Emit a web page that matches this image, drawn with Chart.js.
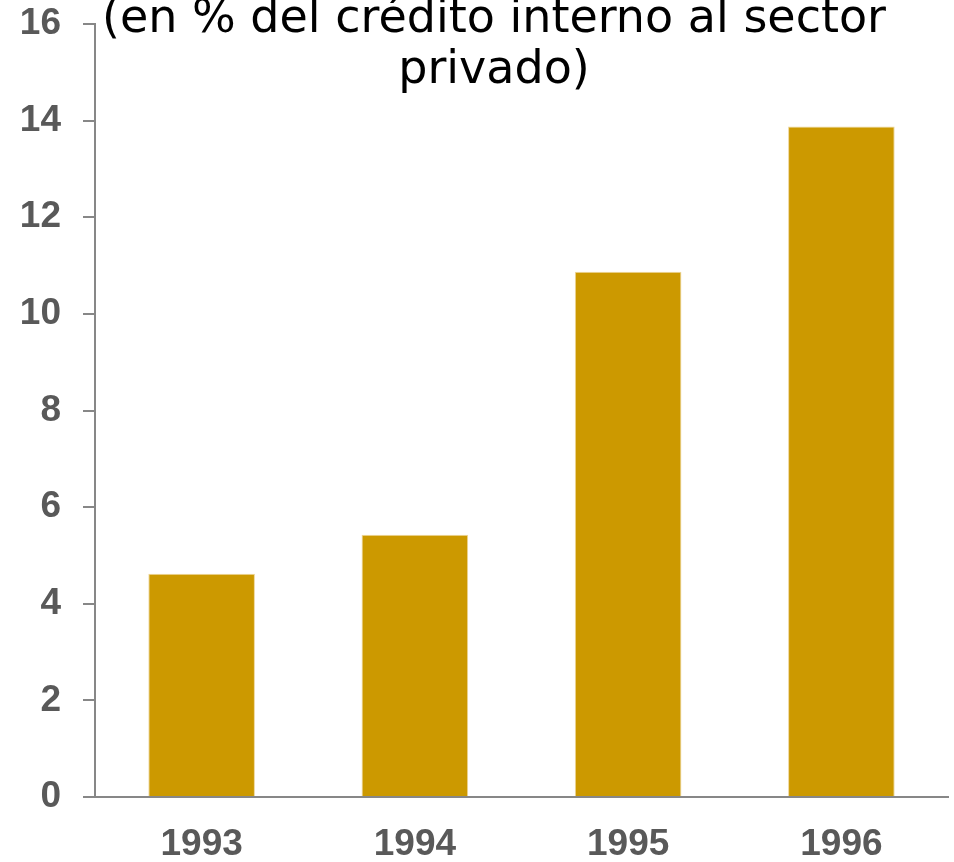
<!DOCTYPE html>
<html>
<head>
<meta charset="utf-8">
<script src="https://cdn.jsdelivr.net/npm/chart.js@4"></script>
<style>
    html, body { margin: 0; padding: 0; background: #fff; }
    #wrap { width: 954px; height: 862px; position: relative; }
</style>
</head>
<body>
<div id="wrap"><canvas id="creditChart"></canvas></div>
<script>
// values
const years = ['1993', '1994', '1995', '1996'];
const creditShare = [4.62, 5.43, 10.87, 13.88];
const titleLines = ['(en % del crédito interno al sector', 'privado)'];
const yMin = 0;
const yMax = 16;
const yStep = 2;

const axisGrey = '#878787';
const labelGrey = '#595959';
const barGold = '#CC9900';
const tickFont = { family: 'Liberation Sans', size: 37, weight: 'bold' };

// title sits inside the plot, partly cut off at the top like the original
const titleOverlay = {
    id: 'titleOverlay',
    afterDraw(chart) {
        const ctx = chart.ctx;
        ctx.save();
        ctx.fillStyle = '#000000';
        ctx.font = '46px "DejaVu Sans"';
        ctx.textAlign = 'center';
        ctx.textBaseline = 'alphabetic';
        ctx.fillText(titleLines[0], 494, 32);
        ctx.fillText(titleLines[1], 494, 83);
        ctx.restore();
    },
};

new Chart(document.getElementById('creditChart'), {
    type: 'bar',
    data: {
        labels: years,
        datasets: [
            {
                data: creditShare,
                backgroundColor: barGold,
                borderColor: '#EED79A',
                borderWidth: 1,
                barPercentage: 0.5,
                categoryPercentage: 1.0,
            },
        ],
    },
    options: {
        responsive: true,
        maintainAspectRatio: false,
        animation: false,
        layout: { padding: { top: 24, right: 6, left: 0, bottom: 0 } },
        plugins: {
            legend: { display: false },
            title: { display: false },
            tooltip: { enabled: false },
        },
        scales: {
            x: {
                grid: { display: false, drawTicks: false, tickLength: 0 },
                border: { display: true, color: axisGrey, width: 2 },
                ticks: {
                    color: labelGrey,
                    padding: 26,
                    font: tickFont,
                },
                afterFit(scale) {
                    scale.height = 65;
                    scale.paddingLeft = 0;
                    scale.paddingRight = 0;
                },
            },
            y: {
                min: yMin,
                max: yMax,
                grid: { drawOnChartArea: false, drawTicks: true, tickLength: 12, color: axisGrey, lineWidth: 2 },
                border: { display: true, color: axisGrey, width: 2 },
                ticks: {
                    stepSize: yStep,
                    color: labelGrey,
                    padding: 22,
                    font: tickFont,
                },
                afterFit(scale) {
                    scale.width = 95;
                    scale.paddingTop = 0;
                    scale.paddingBottom = 0;
                },
            },
        },
    },
    plugins: [titleOverlay],
});
</script>
</body>
</html>
